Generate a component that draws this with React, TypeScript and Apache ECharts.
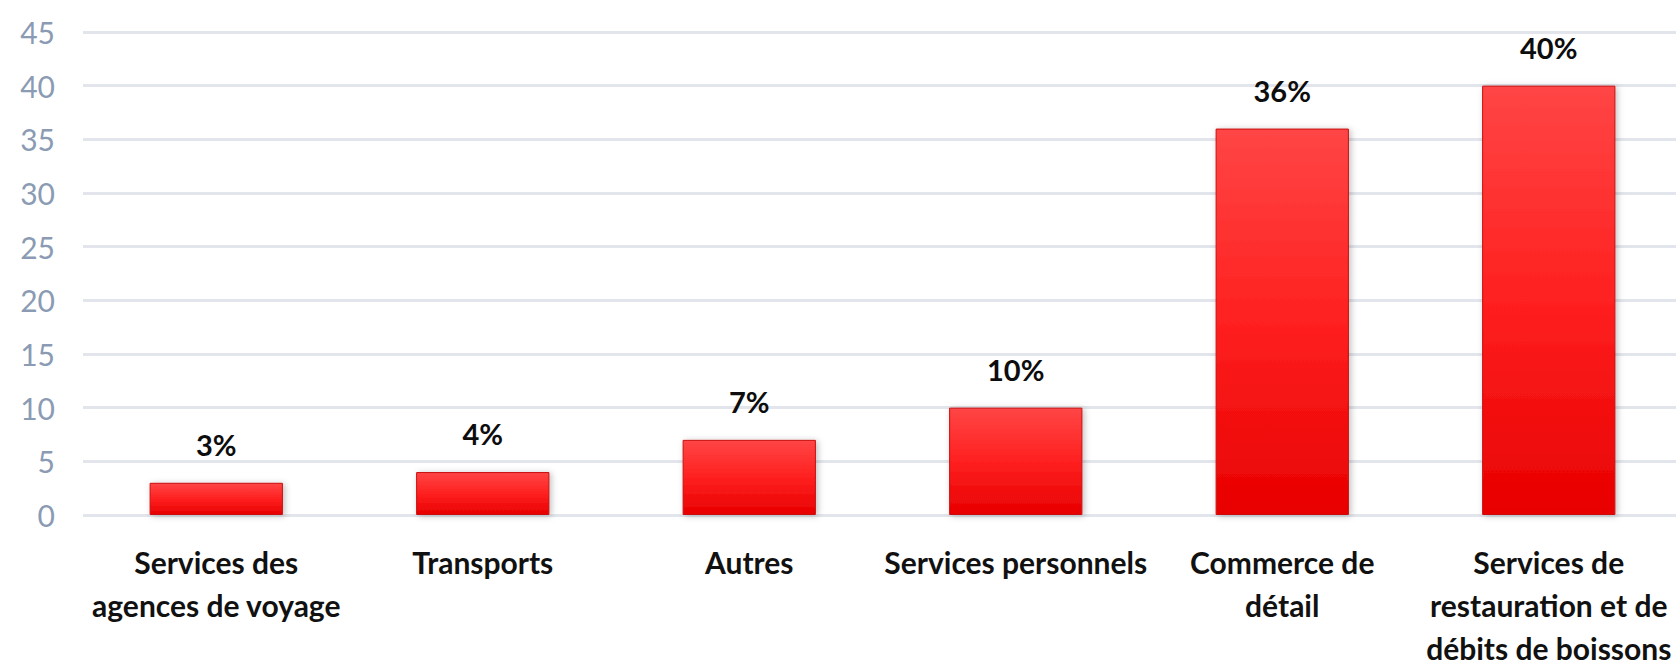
import React, { useEffect, useRef } from "react";
import * as echarts from "echarts";

const categories = [
  "Services des\nagences de voyage",
  "Transports",
  "Autres",
  "Services personnels",
  "Commerce de\ndétail",
  "Services de\nrestauration et de\ndébits de boissons",
];
const values = [3, 4, 7, 10, 36, 40];
const yMin = 0;
const yMax = 45;
const yInterval = 5;

export default function App() {
  const ref = useRef<HTMLDivElement>(null);
  useEffect(() => {
    if (!ref.current) return;
    const chart = echarts.init(ref.current, undefined, { renderer: "svg" });
    chart.setOption({
      animation: false,
      backgroundColor: "#ffffff",
      grid: {
        left: 83,
        right: -6,
        top: 32,
        bottom: 151,
        containLabel: false,
        outerBoundsMode: "none",
      },
      xAxis: {
        type: "category",
        data: categories,
        axisLine: { show: false },
        axisTick: { show: false },
        axisLabel: {
          interval: 0,
          margin: 25,
          color: "#111111",
          fontFamily: "Lato",
          fontWeight: "bold",
          fontSize: 30,
          lineHeight: 43,
        },
      },
      yAxis: {
        type: "value",
        min: yMin,
        max: yMax,
        interval: yInterval,
        axisLine: { show: false },
        axisTick: { show: false },
        axisLabel: {
          margin: 28,
          color: "#8A9BB3",
          fontFamily: "Lato",
          fontSize: 30,
        },
        splitLine: { lineStyle: { color: "#E2E5EB", width: 3 } },
      },
      series: [
        {
          type: "bar",
          data: values,
          barWidth: "50%",
          itemStyle: {
            color: new echarts.graphic.LinearGradient(0, 0, 0, 1, [
              { offset: 0, color: "#FF4545" },
              { offset: 0.5, color: "#FF2020" },
              { offset: 1, color: "#E80000" },
            ]),
            borderColor: "#C81010",
            borderWidth: 1,
            shadowColor: "rgba(0,0,0,0.25)",
            shadowBlur: 6,
            shadowOffsetX: 2,
            shadowOffsetY: 1,
          },
          label: {
            show: true,
            position: "top",
            distance: 24,
            formatter: "{c}%",
            color: "#0d0d0d",
            fontFamily: "Lato",
            fontWeight: "bold",
            fontSize: 29,
          },
        },
      ],
    });
    return () => chart.dispose();
  }, []);
  return (
    <div
      ref={ref}
      style={{ position: "fixed", left: 0, top: 0, width: 1676, height: 666 }}
    />
  );
}
